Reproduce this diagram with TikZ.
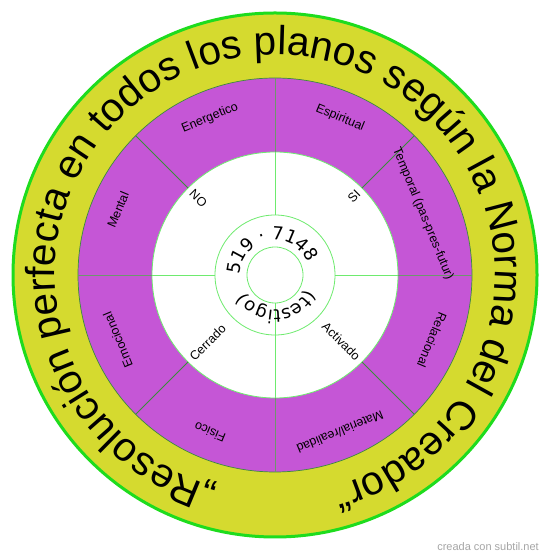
\documentclass[tikz,border=0pt]{standalone}
\usepackage{fontspec}
\setmainfont{Liberation Sans}
\newfontfamily\innerfam{DejaVu Sans}
\usetikzlibrary{decorations.text}
\definecolor{ringyellow}{RGB}{213,218,47}
\definecolor{ringpurple}{RGB}{197,86,214}
\definecolor{brightgreen}{RGB}{30,220,30}
\definecolor{lightgreen}{RGB}{110,235,110}
\definecolor{darkline}{RGB}{60,140,60}
\definecolor{grayline}{RGB}{110,150,110}
\newcommand{\bigf}{\fontsize{40.5}{42}\selectfont}
\newcommand{\innerf}{\innerfam\fontsize{18}{19}\selectfont}
\tikzset{
  plab/.style={font=\fontsize{12.5}{14}\selectfont, inner sep=0pt},
  wlab/.style={font=\fontsize{12.5}{14}\selectfont, inner sep=0pt},
  lgline/.style={draw=lightgreen, line width=0.8pt},
}
\begin{document}
\begin{tikzpicture}[x=1pt,y=1pt]
\useasboundingbox (0,0) rectangle (550,559);
\fill[white] (0,0) rectangle (550,559);
\begin{scope}[shift={(275,284)}]
\fill[ringyellow] (0,0) circle (262);
\draw[brightgreen, line width=3pt] (0,0) circle (262);
\filldraw[fill=ringpurple, draw=darkline, line width=0.7pt] (0,0) circle (197);
\filldraw[fill=white, lgline] (0,0) circle (123);
\foreach \a in {45,135,225,315} \draw[darkline, line width=0.8pt] (\a:123) -- (\a:197);
\foreach \a in {0,90,180,270} \draw[grayline, line width=0.8pt] (\a:123) -- (\a:197);
\foreach \a in {0,90,180} \draw[lgline] (\a:60) -- (\a:123);
\draw[lgline] (270:28) -- (270:123);
\draw[lgline] (0,0) circle (60);
\draw[lgline] (0,0) circle (28);
% purple ring labels
\node[plab, rotate=22.5]   (energetico) at (112.5:170) {Energetico};
\node[plab, rotate=-22.5]  (espiritual) at (67.5:170) {Espiritual};
\node[plab, rotate=-67.5]  (temporal)   at (22.5:160) {Temporal (pas-pres-futur)};
\node[plab, rotate=-112.5] (relacional) at (-22.5:170) {Relacional};
\node[plab, rotate=-157.5] (material)   at (-67.5:170) {Material/realidad};
\node[plab, rotate=157.5]  (fisico)     at (-112.5:170) {Fisico};
\node[plab, rotate=112.5]  (emocional)  at (-157.5:170) {Emocional};
\node[plab, rotate=67.5]   (mental)     at (157.5:170) {Mental};
% white area labels
\node[wlab, rotate=-45, anchor=west] (no) at (135:118) {NO};
\node[wlab, rotate=45, anchor=east] (si) at (45:118) {SI};
\node[wlab, rotate=45, anchor=west] (cerrado) at (225:118) {Cerrado};
\node[wlab, rotate=-45, anchor=east] (activado) at (315:118) {Activado};
% curved texts
\path[decorate, decoration={text along path, text align=center,
  text={|\bigf|„Resolución perfecta en todos los planos según la Norma del Creador“}}]
  (269:220) arc[start angle=269, end angle=-89, radius=220];
\path[decorate, decoration={text along path, text align=center,
  text={|\innerf|519 · 7148}}]
  (202:35) arc[start angle=202, end angle=-2, radius=35];
\path[decorate, decoration={text along path, text align=center,
  text={|\innerf|(testigo)}}]
  (15:35) arc[start angle=15, end angle=-189, radius=35];
\end{scope}
\node[font=\fontsize{11}{12}\selectfont, text=black!35] (credit) at (488,12) {creada con subtil.net};
\end{tikzpicture}
\end{document}
